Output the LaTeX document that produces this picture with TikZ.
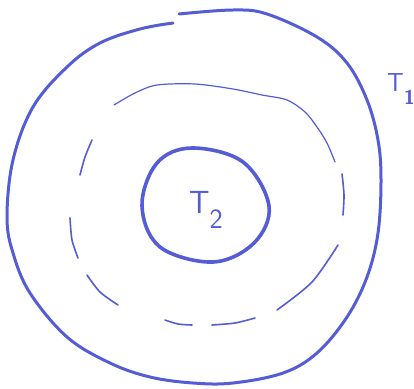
\documentclass[tikz,border=0pt]{standalone}
\usepackage{xcolor}
\usepackage{tikz}
\usetikzlibrary{positioning}
\definecolor{pen}{RGB}{84,92,214}

\begin{document}
\begin{tikzpicture}[
  x=1pt,y=-1pt,
  outline/.style={draw=pen,line width=3pt,line cap=round,line join=round},
  core/.style={draw=pen,line width=3.6pt,line cap=round,line join=round},
  trace/.style={draw=pen,line width=1.6pt,line cap=round},
  label/.style={text=pen,font=\fontsize{32}{32}\selectfont\sffamily,inner sep=0pt},
]
\useasboundingbox (0,0) rectangle (414,388);

% outer region T_1
\draw[outline] plot[smooth,tension=0.6] coordinates {
  (179,14) (233,10) (267,14) (317,37) (347,63) (367,100) (378,140)
  (381,180) (378,233) (367,277) (347,317) (317,353) (283,373) (233,383)
  (193,383) (150,377) (110,363) (67,337) (30,293) (13,253) (7,217)
  (13,160) (33,107) (67,67) (100,43) (140,29) (173,23)};

% dashed middle curve
\draw[trace,line width=1.2pt] plot[smooth] coordinates {
  (114,105) (135,93) (157,85) (195,84) (233,89) (262,95) (287,100)
  (305,112) (317,127) (327,143) (335,162)};
\draw[trace] plot[smooth] coordinates {(342,174) (344,195) (343,215)};
\draw[trace] plot[smooth] coordinates {(338,245) (312,282) (277,310)};
\draw[trace] plot[smooth] coordinates {(255,318) (235,323) (212,325)};
\draw[trace] plot[smooth] coordinates {(192,325) (178,324) (165,320)};
\draw[trace] plot[smooth] coordinates {(118,305) (100,292) (87,275)};
\draw[trace] plot[smooth] coordinates {(78,258) (72,240) (70,218)};
\draw[trace] plot[smooth] coordinates {(80,175) (85,157) (92,140)};

% inner region T_2
\draw[core] plot[smooth cycle,tension=0.6] coordinates {
  (192,148) (243,162) (269,206) (254,243) (213,262) (160,247) (142,206) (157,163)};

\node[label] (t2) at (206,210) {T\raisebox{-0.45em}{\fontsize{28}{28}\selectfont 2}};
\node[label,font=\fontsize{26}{26}\selectfont\sffamily] (t1) at (401,89) {T\raisebox{-0.5em}{\fontsize{20}{20}\selectfont\bfseries 1}};

\end{tikzpicture}
\end{document}
